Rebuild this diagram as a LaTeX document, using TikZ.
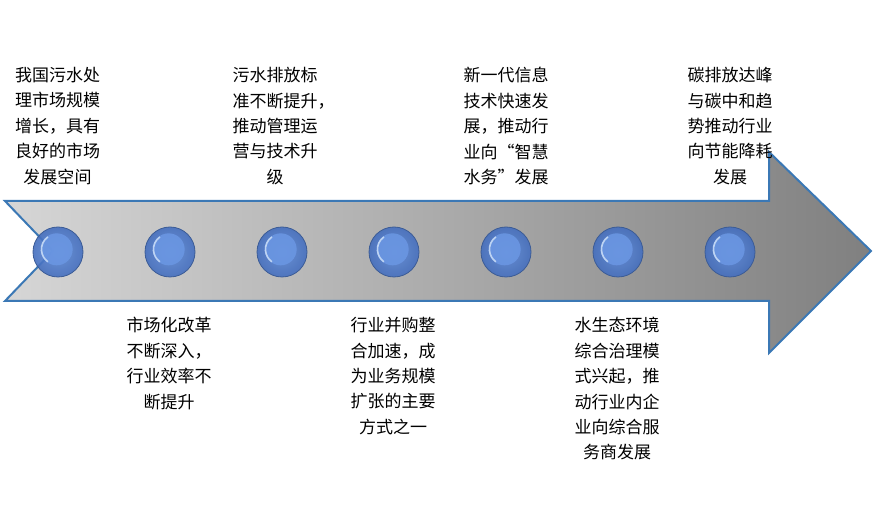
\documentclass[tikz,border=0pt]{standalone}
\usepackage{fontspec}
\newfontfamily\cjk{Noto Sans CJK SC}
\usepackage{tikz}
\usetikzlibrary{positioning}
\definecolor{arrowedge}{RGB}{59,120,181}
\definecolor{arrowleft}{RGB}{214,214,214}
\definecolor{arrowright}{RGB}{128,128,128}
\definecolor{ballouter}{RGB}{68,110,190}
\definecolor{ballinner}{RGB}{96,140,216}
\definecolor{balledge}{RGB}{60,92,150}
\definecolor{ballcore}{RGB}{106,150,226}
\definecolor{ballshine}{RGB}{190,212,243}

\begin{document}
\begin{tikzpicture}[x=0.75pt, y=-0.75pt, node distance = {84pt},
	ball/.style = {circle, minimum size=37.5pt, inner sep=0pt, draw=balledge, line width=0.6pt,
		inner color=ballinner, outer color=ballouter, fill opacity=0.9,
		path picture={
			\fill[ballcore] ([shift={(-1pt,2pt)}]path picture bounding box.center) circle (12pt);
			\draw[ballshine, line width=1.2pt] ([shift={(-1pt,2pt)}]path picture bounding box.center) ++(125:11.4pt) arc (125:235:11.4pt);
		}},
	note/.style = {font=\cjk\fontsize{12.75}{19.1}\selectfont, align=center, inner sep=0pt}]
	\useasboundingbox (0,0) rectangle (874,505);
	% timeline arrow
	\draw[arrowedge, line width=1.5pt, line join=miter, left color=arrowleft, right color=arrowright]
		(5,201) -- (769,201) -- (769,152) -- (871,251) -- (769,353) -- (769,301) -- (5,301) -- (53,251) -- cycle;
	% milestones
	\node[ball] (c1) at (58,252) {};
	\node[ball] (c2) [right of=c1] {};
	\node[ball] (c3) [right of=c2] {};
	\node[ball] (c4) [right of=c3] {};
	\node[ball] (c5) [right of=c4] {};
	\node[ball] (c6) [right of=c5] {};
	\node[ball] (c7) [right of=c6] {};
	% texts above
	\node[note, anchor=north] (t1) at (57.5,67) {我国污水处\\理市场规模\\增长，具有\\良好的市场\\发展空间};
	\node[note, anchor=north] (t3) at (275,67) {污水排放标\\准不断提升\rlap{，}\\推动管理运\\营与技术升\\级};
	\node[note, anchor=north] (t5) at (506,67) {新一代信息\\技术快速发\\展，推动行\\业向\makebox[1em][r]{“}智慧\\水务\makebox[1em][l]{”}发展};
	\node[note, anchor=north] (t7) at (730,67) {碳排放达峰\\与碳中和趋\\势推动行业\\向节能降耗\\发展};
	% texts below
	\node[note, anchor=north] (t2) at (169,317) {市场化改革\\不断深入，\\行业效率不\\断提升};
	\node[note, anchor=north] (t4) at (393,317) {行业并购整\\合加速，成\\为业务规模\\扩张的主要\\方式之一};
	\node[note, anchor=north] (t6) at (617,317) {水生态环境\\综合治理模\\式兴起，推\\动行业内企\\业向综合服\\务商发展};
\end{tikzpicture}
\end{document}
